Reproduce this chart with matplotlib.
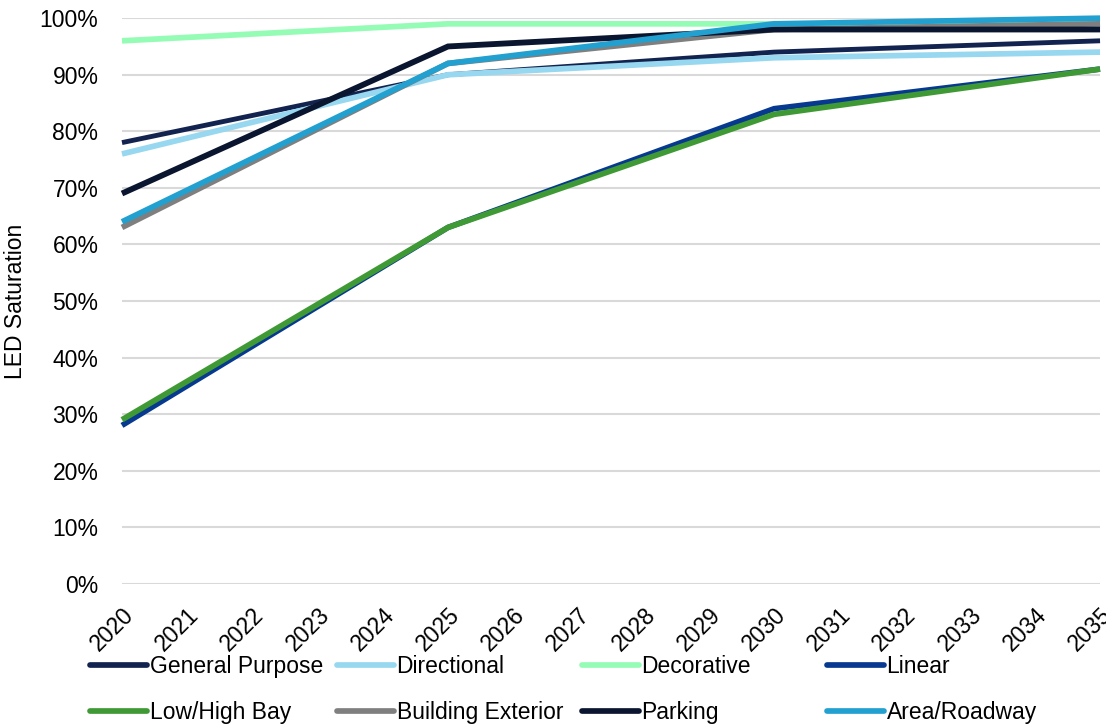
import matplotlib
matplotlib.use("Agg")
import matplotlib.pyplot as plt
from matplotlib.ticker import PercentFormatter, MultipleLocator

plt.rcParams['font.family'] = ['Liberation Sans', 'DejaVu Sans']

years = [2020, 2025, 2030, 2035]
year_ticks = list(range(2020, 2036))

series_names = ["General Purpose", "Directional", "Decorative", "Linear",
                "Low/High Bay", "Building Exterior", "Parking", "Area/Roadway"]
general_purpose = [78, 90, 94, 96]
directional = [76, 90, 93, 94]
decorative = [96, 99, 99, 99]
linear = [28, 63, 84, 91]
low_high_bay = [29, 63, 83, 91]
building_exterior = [63, 92, 98, 99]
parking = [69, 95, 98, 98]
area_roadway = [64, 92, 99, 100]

series_values = [general_purpose, directional, decorative, linear,
                 low_high_bay, building_exterior, parking, area_roadway]
colors = ["#12234f", "#97d7ef", "#94fcb5", "#06398f",
          "#3f9a35", "#7f7f7f", "#0a1530", "#22a0d0"]
widths = [3.5, 4.1, 4.1, 4.0, 4.1, 4.1, 4.2, 4.1]

FS = 16.5

fig = plt.figure(figsize=(11.06, 7.27), dpi=100)
ax = fig.add_axes([0.1103, 0.197, 0.8843, 0.778])

lines = []
for name, vals, c, w in zip(series_names, series_values, colors, widths):
    ln, = ax.plot(years, vals, color=c, lw=w, label=name,
                  solid_joinstyle='miter', solid_capstyle='butt',
                  clip_on=False)
    lines.append(ln)

ax.set_xlim(2020, 2035)
ax.set_ylim(0, 100)
ax.yaxis.set_major_locator(MultipleLocator(10))
ax.yaxis.set_major_formatter(PercentFormatter(decimals=0))
ax.set_xticks(year_ticks)
ax.set_xticklabels([str(y) for y in year_ticks], rotation=45,
                   ha='right', va='top', rotation_mode='anchor')
ax.tick_params(axis='both', length=0, labelsize=FS, colors='black')
ax.tick_params(axis='x', pad=14)
ax.tick_params(axis='y', pad=17)
ax.grid(axis='y', color='#d9d9d9', lw=1.5)
ax.set_axisbelow(True)
for s in ax.spines.values():
    s.set_visible(False)

ax.set_ylabel("LED Saturation", fontsize=FS)
ax.yaxis.set_label_coords(-0.097, 0.5)

# legend: four columns of two entries each, evenly spaced
col_x = [90, 337, 582, 827]
for i, x in enumerate(col_x):
    handles = [lines[i], lines[i + 4]]
    leg = fig.legend(handles=handles, labels=[h.get_label() for h in handles],
                     loc='upper left', bbox_to_anchor=(x / 1106, 1 - 655 / 727),
                     frameon=False, fontsize=FS, handlelength=2.5,
                     handletextpad=0.1, labelspacing=1.02, borderpad=0,
                     borderaxespad=0)
    for lh in leg.get_lines():
        lh.set_linewidth(4.1)
        lh.set_solid_capstyle('round')

fig.savefig("out.png", dpi=100)
